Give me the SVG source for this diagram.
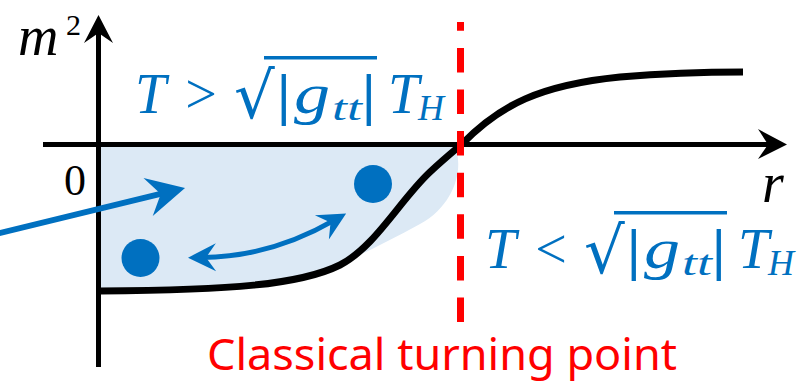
<svg xmlns="http://www.w3.org/2000/svg" width="807" height="382" viewBox="0 0 807 382">
  <style>
    .axis { stroke: #000; stroke-width: 5; fill: none; }
    .curve { stroke: #000; stroke-width: 7; fill: none; }
    .blue { fill: #0070c0; }
    .mi { font-family: "Liberation Serif", serif; font-style: italic; font-size: 56px; fill: #0070c0; }
    .mo { font-family: "Liberation Serif", serif; font-size: 56px; fill: #0070c0; }
    .bar { font-family: "DejaVu Sans", sans-serif; font-size: 52px; fill: #0070c0; }
    .rad { font-family: "DejaVu Sans", sans-serif; font-size: 64px; fill: #0070c0; }
    .sub { font-family: "Liberation Serif", serif; font-style: italic; font-size: 36px; fill: #0070c0; }
    .lbl { font-family: "Liberation Serif", serif; font-style: italic; font-size: 56px; fill: #000; }
    .arr { stroke: #0070c0; fill: none; }
  </style>
  <defs>
    <marker id="ahBig" markerUnits="userSpaceOnUse" viewBox="-42 -22 44 44" markerWidth="44" markerHeight="44" refX="-20" refY="0" orient="auto">
      <path d="M0,0 L-38,-19.6 L-25,0 L-38,19.6 Z" fill="#0070c0"/>
    </marker>
    <marker id="ahSmall" markerUnits="userSpaceOnUse" viewBox="-32 -16 34 32" markerWidth="34" markerHeight="32" refX="-14" refY="0" orient="auto-start-reverse">
      <path d="M0,0 L-28,-14 L-18,0 L-28,14 Z" fill="#0070c0"/>
    </marker>
  </defs>

  <g id="region">
    <path d="M 100 147 L 455 147 C 464 168, 455 205, 420 224 C 395 238, 370 250, 345 262 C 300 282, 230 287, 100 288 Z" fill="#dce9f5"/>
  </g>

  <g id="axes">
    <line class="axis" x1="98.5" y1="367" x2="98.5" y2="30"/>
    <path d="M98.5,15 L113,43 L98.5,33 L84,43 Z" fill="#000"/>
    <line class="axis" x1="43" y1="144.5" x2="770" y2="144.5"/>
    <path d="M787,144.5 L758,129 L768,144.5 L758,159 Z" fill="#000"/>
  </g>

  <g id="potential">
    <path class="curve" d="M 100 291 C 230 290, 300 285, 340 265 C 375 247, 400 200, 430 172 C 445 158, 455 150, 462 144 C 500 105, 540 85, 620 77 C 680 72, 720 72, 743 72"/>
  </g>

  <g id="turning-point">
    <line x1="460.5" y1="322" x2="460.5" y2="22" stroke="#ff0000" stroke-width="7" stroke-dasharray="24.5 17.1"/>
    <text x="442" y="370" text-anchor="middle" font-family="Noto Sans, sans-serif" font-size="44" fill="#ff0000" textLength="470" lengthAdjust="spacingAndGlyphs">Classical turning point</text>
  </g>

  <g id="labels">
    <text class="lbl" x="18" y="55">m</text>
    <text font-family="Liberation Serif, serif" font-size="30" x="66" y="35" fill="#000">2</text>
    <text font-family="Liberation Serif, serif" font-size="44" x="86" y="195" text-anchor="end" fill="#000">0</text>
    <text class="lbl" x="762" y="202">r</text>
  </g>

  <g id="formula-above">
    <text class="mi" x="135" y="113">T</text>
    <text class="mo" x="201" y="113" text-anchor="middle">&gt;</text>
    <text class="rad" x="234" y="118">√</text>
    <rect x="264" y="56" width="113" height="3.5" fill="#0070c0"/>
    <text class="bar" x="275" y="113">|</text>
    <text class="mi" x="294" y="113" textLength="36" lengthAdjust="spacingAndGlyphs">g</text>
    <text class="sub" x="332" y="120" textLength="30" lengthAdjust="spacingAndGlyphs">tt</text>
    <text class="bar" x="360" y="113">|</text>
    <text class="mi" x="388" y="113">T</text>
    <text class="sub" x="418" y="120">H</text>
  </g>

  <g id="formula-below" transform="translate(350,155)">
    <text class="mi" x="135" y="113">T</text>
    <text class="mo" x="201" y="113" text-anchor="middle">&lt;</text>
    <text class="rad" x="234" y="118">√</text>
    <rect x="264" y="56" width="113" height="3.5" fill="#0070c0"/>
    <text class="bar" x="275" y="113">|</text>
    <text class="mi" x="294" y="113" textLength="36" lengthAdjust="spacingAndGlyphs">g</text>
    <text class="sub" x="332" y="120" textLength="30" lengthAdjust="spacingAndGlyphs">tt</text>
    <text class="bar" x="360" y="113">|</text>
    <text class="mi" x="388" y="113">T</text>
    <text class="sub" x="418" y="120">H</text>
  </g>

  <g id="particles">
    <circle class="blue" cx="373" cy="184" r="19"/>
    <circle class="blue" cx="140.5" cy="258" r="19"/>
  </g>

  <g id="connectors">
    <path class="arr" stroke-width="6" d="M -5 234.2 L 165.6 192.7" marker-end="url(#ahBig)"/>
    <path class="arr" stroke-width="5" d="M 202 257.5 C 255 257, 300 240, 334 220.4" marker-start="url(#ahSmall)" marker-end="url(#ahSmall)"/>
  </g>
</svg>
